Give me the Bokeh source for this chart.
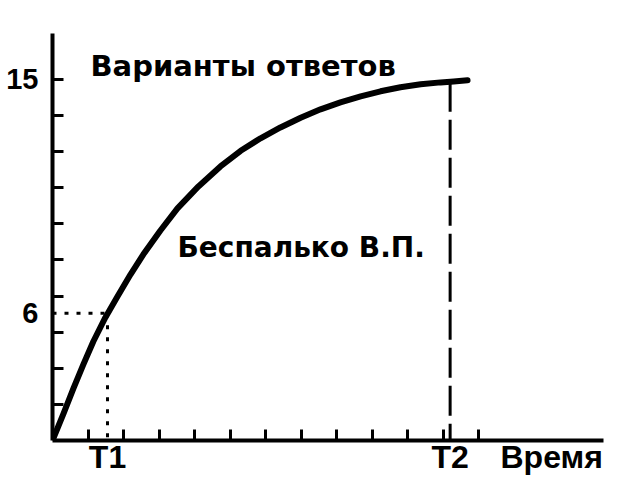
from bokeh.plotting import figure
from bokeh.models import Range1d, FixedTicker, Label
from bokeh.embed import file_html
from bokeh.resources import INLINE

# --- data ---
curve_x = [0, 0.31, 0.59, 0.87, 1.15, 1.49, 1.83, 2.20, 2.56, 3.04, 3.52, 4.11, 4.73,
           5.30, 5.86, 6.42, 6.99, 7.55, 8.11, 8.68, 9.24, 9.80, 10.37, 10.93, 11.30, 11.69]
curve_y = [0, 1.12, 2.16, 3.16, 4.11, 5.11, 5.98, 6.90, 7.73, 8.72, 9.64, 10.55, 11.38,
           12.03, 12.55, 13.00, 13.40, 13.75, 14.04, 14.29, 14.50, 14.67, 14.79, 14.87, 14.91, 14.96]
t1_x, t1_y = 1.55, 5.28       # T1 point, labelled "6"
t2_x, t2_y = 11.2, 14.90      # T2 point
time_x = 14.06                # position of "Время" label on the x axis
x_minor = [1, 2, 3, 4, 5, 6, 7, 8, 9, 10, 11, 12]
y_minor = [1.5, 3, 4.5, 6, 7.5, 9, 10.5, 12, 13.5, 15]
x_tick_labels = {t1_x: "T1", t2_x: "T2", time_x: "Время"}
y_tick_labels = {t1_y: "6", 15: "15"}
title_text = "Варианты ответов"
author_text = "Беспалько В.П."

p = figure(width=625, height=482, output_backend="svg", toolbar_location=None,
           x_range=Range1d(0, 15.52), y_range=Range1d(0, 16.9),
           min_border_left=52, min_border_top=33, min_border_right=22, min_border_bottom=42)
p.outline_line_color = None
p.xgrid.grid_line_color = None
p.ygrid.grid_line_color = None
p.background_fill_color = "white"
p.border_fill_color = "white"

for ax, ticks, minor, labels in ((p.xaxis[0], [t1_x, t2_x, time_x], x_minor, x_tick_labels),
                                 (p.yaxis[0], [t1_y, 15], y_minor, y_tick_labels)):
    ax.ticker = FixedTicker(ticks=ticks, minor_ticks=minor)
    ax.major_label_overrides = labels
    ax.axis_line_width = 4
    ax.axis_line_color = "black"
    ax.major_tick_in = 0
    ax.major_tick_out = 0
    ax.minor_tick_in = 11
    ax.minor_tick_out = 0
    ax.minor_tick_line_width = 3
    ax.minor_tick_line_color = "black"
    ax.major_label_text_font = "Liberation Sans"
    ax.major_label_text_font_style = "bold"
    ax.major_label_text_color = "black"

p.xaxis[0].major_label_text_font_size = "32px"
p.xaxis[0].major_label_standoff = -2
p.yaxis[0].major_label_text_font_size = "29px"
p.yaxis[0].major_label_standoff = 14

# guide lines
p.line([0, t1_x], [t1_y, t1_y], line_color="black", line_width=3, line_dash="4 8")
p.line([t1_x, t1_x], [t1_y, 0], line_color="black", line_width=3, line_dash="4 8")
p.line([t2_x, t2_x], [t2_y, 0], line_color="black", line_width=3, line_dash="30 8")

# main curve
p.line(curve_x, curve_y, line_color="black", line_width=6, line_cap="round", line_join="round")

p.add_layout(Label(x=1.07, y=15.54, text=title_text, text_font="DejaVu Sans",
                   text_font_style="bold", text_font_size="29px", text_baseline="middle",
                   text_color="black"))
p.add_layout(Label(x=3.52, y=8.02, text=author_text, text_font="DejaVu Sans",
                   text_font_style="bold", text_font_size="28px", text_baseline="middle",
                   text_color="black"))

open("out.html", "w").write(file_html(p, INLINE))
